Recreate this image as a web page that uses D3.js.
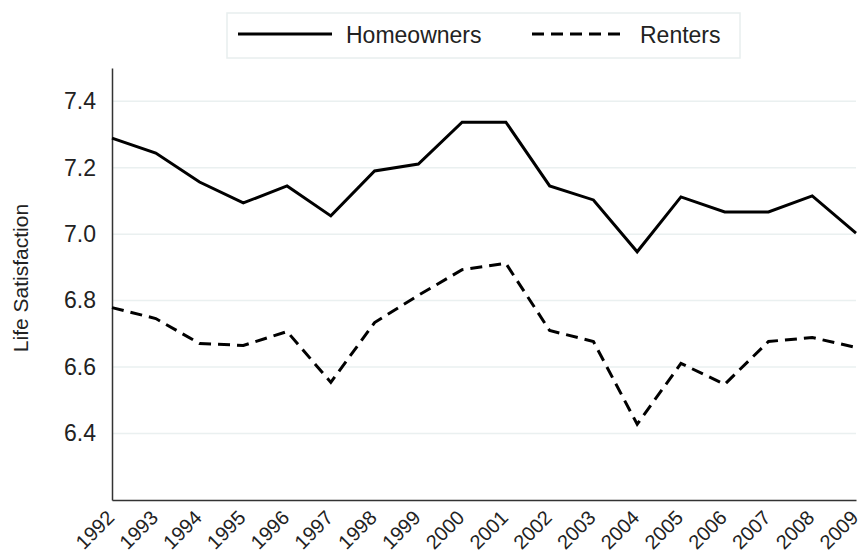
<!DOCTYPE html>
<html>
<head>
<meta charset="utf-8">
<script src="https://cdn.jsdelivr.net/npm/d3@7"></script>
<style>
  body { margin: 0; background: #fff; }
  svg { display: block; font-family: "Liberation Sans", Arial, sans-serif; }
</style>
</head>
<body>
<div id="chart"></div>
<script>
// Data
const years = [1992, 1993, 1994, 1995, 1996, 1997, 1998, 1999, 2000,
               2001, 2002, 2003, 2004, 2005, 2006, 2007, 2008, 2009];
const homeowners = [7.289, 7.244, 7.157, 7.094, 7.145, 7.055, 7.19, 7.211, 7.337,
                    7.337, 7.145, 7.103, 6.947, 7.112, 7.067, 7.067, 7.115, 7.003];
const renters = [6.779, 6.746, 6.671, 6.665, 6.707, 6.554, 6.734, 6.816, 6.893,
                 6.912, 6.71, 6.677, 6.428, 6.611, 6.548, 6.677, 6.689, 6.659];
const yTicks = [6.4, 6.6, 6.8, 7.0, 7.2, 7.4];
const seriesNames = ["Homeowners", "Renters"];

const width = 859, height = 554;
const margin = { top: 68, right: 3, bottom: 54, left: 112 };

const svg = d3.select("#chart").append("svg")
    .attr("width", width)
    .attr("height", height);

const x = d3.scaleLinear()
    .domain([1992, 2009])
    .range([margin.left, width - margin.right]);
const y = d3.scaleLinear()
    .domain([6.2, 7.5])
    .range([height - margin.bottom, margin.top]);

// gridlines
svg.append("g")
    .selectAll("line")
    .data(yTicks)
    .join("line")
    .attr("x1", margin.left)
    .attr("x2", width - margin.right)
    .attr("y1", d => y(d))
    .attr("y2", d => y(d))
    .attr("stroke", "#eaf0f0")
    .attr("stroke-width", 1.5);

// y axis
const yAxis = svg.append("g")
    .attr("transform", `translate(${margin.left},0)`)
    .call(d3.axisLeft(y).tickValues(yTicks).tickFormat(d3.format(".1f")).tickSize(0).tickPadding(16));
yAxis.select(".domain").attr("stroke", "#333").attr("stroke-width", 1.5);
yAxis.selectAll("text").attr("font-size", 23).attr("fill", "#222")
    .attr("font-family", "Liberation Sans, Arial, sans-serif");

// x axis
const xAxis = svg.append("g")
    .attr("transform", `translate(0,${height - margin.bottom})`)
    .call(d3.axisBottom(x).tickValues(years).tickFormat(d3.format("d")).tickSize(0).tickPadding(0));
xAxis.select(".domain").attr("stroke", "#333").attr("stroke-width", 1.5);
xAxis.selectAll("text")
    .attr("font-size", 20)
    .attr("fill", "#222")
    .attr("font-family", "Liberation Sans, Arial, sans-serif")
    .attr("text-anchor", "end")
    .attr("dy", null)
    .attr("y", 0)
    .attr("transform", "translate(3,19) rotate(-45)");

// y title
svg.append("text")
    .attr("transform", `translate(28,278) rotate(-90)`)
    .attr("text-anchor", "middle")
    .attr("font-size", 21)
    .attr("fill", "#222")
    .text("Life Satisfaction");

// lines
const line = d3.line()
    .x((d, i) => x(years[i]))
    .y(d => y(d));

const styles = [null, "12,7"];
[homeowners, renters].forEach((s, k) => {
  svg.append("path")
      .datum(s)
      .attr("fill", "none")
      .attr("stroke", "#000")
      .attr("stroke-width", 3)
      .attr("stroke-linejoin", "miter")
      .attr("stroke-dasharray", styles[k])
      .attr("d", line);
});

// legend
const legend = svg.append("g");
legend.append("rect")
    .attr("x", 227).attr("y", 13)
    .attr("width", 513).attr("height", 45)
    .attr("fill", "#fff")
    .attr("stroke", "#e8eeee")
    .attr("stroke-width", 1.5);
const legX = [238, 532];
seriesNames.forEach((name, k) => {
  legend.append("line")
      .attr("x1", legX[k]).attr("x2", legX[k] + 94)
      .attr("y1", 34).attr("y2", 34)
      .attr("stroke", "#000")
      .attr("stroke-width", 3)
      .attr("stroke-dasharray", styles[k]);
  legend.append("text")
      .attr("x", legX[k] + 108)
      .attr("y", 43)
      .attr("font-size", 23)
      .attr("fill", "#222")
      .text(name);
});
</script>
</body>
</html>
